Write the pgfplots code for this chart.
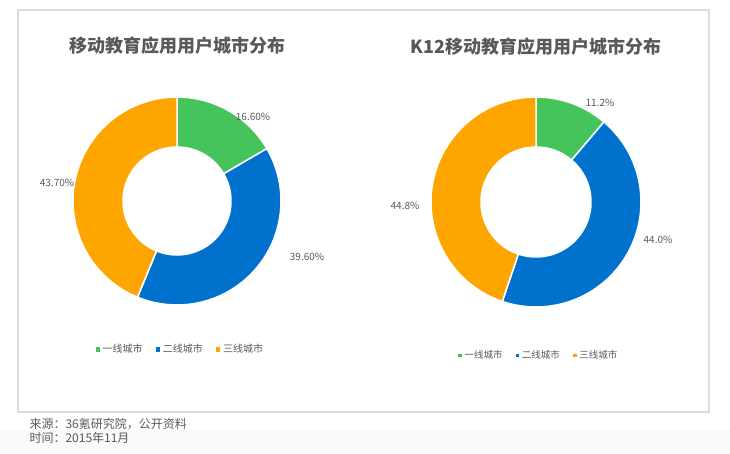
\documentclass[border=0pt]{standalone}
\usepackage{pgfplots}
\pgfplotsset{compat=1.18}
\usepackage{fontspec}
\setmainfont{Noto Sans CJK SC}
\definecolor{cgreen}{RGB}{70,196,92}
\definecolor{cblue}{RGB}{0,114,206}
\definecolor{corange}{RGB}{255,165,0}
\definecolor{ctext}{RGB}{89,89,89}
\definecolor{cframe}{RGB}{220,220,220}
\begin{document}
\begin{tikzpicture}
\pgfplotsset{
  base/.style={hide axis, scale only axis, width=730pt, height=454pt,
    xmin=0, xmax=730, ymin=0, ymax=454, clip=false,
    at={(0pt,0pt)}, anchor=south west,
    legend columns=3,
    legend style={draw=none, fill=none, text=ctext,
      nodes={inner xsep=1.5pt},
      /tikz/every odd column/.append style={column sep=2pt},
      /tikz/every even column/.append style={column sep=12pt}},
  },
}
% left donut: shares (%) 16.6, 39.6, 43.7
\begin{axis}[base,
  legend style={at={(0.247,0.231)}, anchor=center, font=\fontsize{10}{12}\selectfont}]
\addlegendimage{only marks, mark=square*, mark size=1.6pt, cgreen}
\addlegendentry{一线城市}
\addlegendimage{only marks, mark=square*, mark size=1.6pt, cblue}
\addlegendentry{二线城市}
\addlegendimage{only marks, mark=square*, mark size=1.6pt, corange}
\addlegendentry{三线城市}
% page and frame
\path (0,0) rectangle (730,454);
\fill[gray!4] (0,0) rectangle (730,24);
\fill[white] (18,42) rectangle (709,444);
\draw[cframe, line width=1.2pt] (18,42) rectangle (709,444);
% slices
\filldraw[cgreen, draw=white, line width=1.5pt] (177,253) ++({90}:104pt) arc[start angle={90}, end angle={90-16.6*3.6}, radius=104pt] -- ++({90-16.6*3.6+180}:50pt) arc[start angle={90-16.6*3.6}, end angle={90}, radius=54pt] -- cycle;
\filldraw[cblue, draw=white, line width=1.5pt] (177,253) ++({90-16.6*3.6}:104pt) arc[start angle={90-16.6*3.6}, end angle={90-(16.6+39.6)*3.6}, radius=104pt] -- ++({90-(16.6+39.6)*3.6+180}:50pt) arc[start angle={90-(16.6+39.6)*3.6}, end angle={90-16.6*3.6}, radius=54pt] -- cycle;
\filldraw[corange, draw=white, line width=1.5pt] (177,253) ++({90-(16.6+39.6)*3.6}:104pt) arc[start angle={90-(16.6+39.6)*3.6}, end angle={-270}, radius=104pt] -- ++({90}:-50pt) arc[start angle={-270}, end angle={90-(16.6+39.6)*3.6}, radius=54pt] -- cycle;
% labels
\node[text=ctext, font=\fontsize{10}{12}\selectfont] at (253,337) {16.60\%};
\node[text=ctext, font=\fontsize{10}{12}\selectfont] at (307,197) {39.60\%};
\node[text=ctext, font=\fontsize{10}{12}\selectfont] at (57,271) {43.70\%};
% titles
\node[text=ctext, font=\fontsize{18}{20}\selectfont\bfseries] at (177,408) {移动教育应用用户城市分布};
\node[text=ctext, font=\fontsize{18}{20}\selectfont\bfseries] at (536,407) {K12移动教育应用用户城市分布};
% footer
\node[text=ctext, anchor=west, font=\fontsize{12}{14}\selectfont] at (26,30) {来源：36氪研究院，公开资料};
\node[text=ctext, anchor=west, font=\fontsize{12}{14}\selectfont] at (26,16) {时间：2015年11月};
\end{axis}
% right donut: shares (%) 11.2, 44.0, 44.8
\begin{axis}[base,
  legend style={at={(0.738,0.218)}, anchor=center, font=\fontsize{9.5}{11}\selectfont}]
\addlegendimage{only marks, mark=square*, mark size=1.2pt, cgreen}
\addlegendentry{一线城市}
\addlegendimage{only marks, mark=square*, mark size=1.2pt, cblue}
\addlegendentry{二线城市}
\addlegendimage{only marks, mark=square*, mark size=1.2pt, corange}
\addlegendentry{三线城市}
\path (0,0) rectangle (730,454);
\filldraw[cgreen, draw=white, line width=1.5pt] (536,252) ++({90}:105pt) arc[start angle={90}, end angle={90-11.2*3.6}, radius=105pt] -- ++({90-11.2*3.6+180}:50pt) arc[start angle={90-11.2*3.6}, end angle={90}, radius=55pt] -- cycle;
\filldraw[cblue, draw=white, line width=1.5pt] (536,252) ++({90-11.2*3.6}:105pt) arc[start angle={90-11.2*3.6}, end angle={90-(11.2+44.0)*3.6}, radius=105pt] -- ++({90-(11.2+44.0)*3.6+180}:50pt) arc[start angle={90-(11.2+44.0)*3.6}, end angle={90-11.2*3.6}, radius=55pt] -- cycle;
\filldraw[corange, draw=white, line width=1.5pt] (536,252) ++({90-(11.2+44.0)*3.6}:105pt) arc[start angle={90-(11.2+44.0)*3.6}, end angle={-270}, radius=105pt] -- ++({90}:-50pt) arc[start angle={-270}, end angle={90-(11.2+44.0)*3.6}, radius=55pt] -- cycle;
\node[text=ctext, font=\fontsize{10}{12}\selectfont] at (600,351) {11.2\%};
\node[text=ctext, font=\fontsize{10}{12}\selectfont] at (658,214) {44.0\%};
\node[text=ctext, font=\fontsize{10}{12}\selectfont] at (405,248) {44.8\%};
\end{axis}
\end{tikzpicture}
\end{document}
